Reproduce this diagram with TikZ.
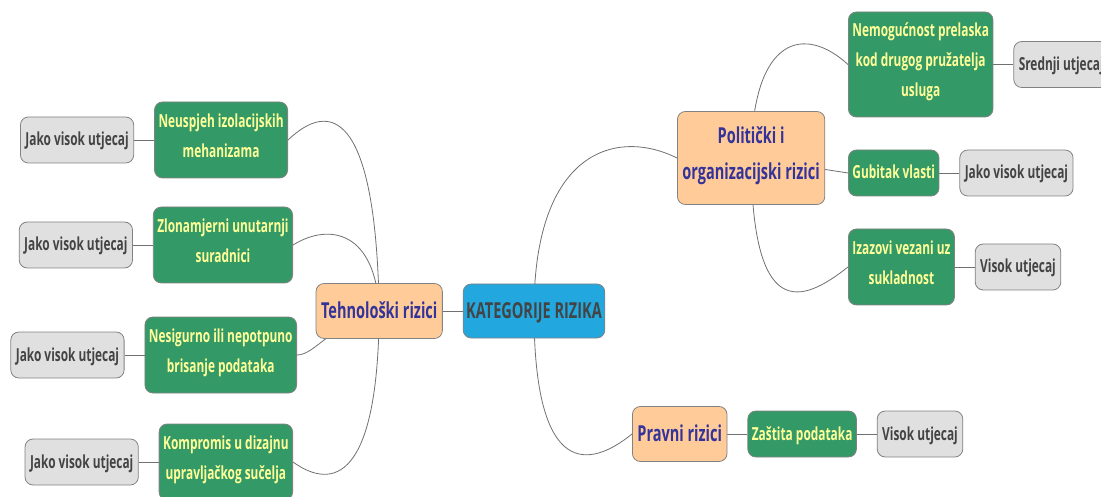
\documentclass[tikz,border=0pt]{standalone}
\usepackage{fontspec}
\setmainfont{Open Sans}[FakeStretch=0.66]
\usetikzlibrary{positioning,backgrounds}

\definecolor{rootblue}{RGB}{34,168,223}
\definecolor{peach}{RGB}{255,204,153}
\definecolor{topictext}{RGB}{51,51,153}
\definecolor{riskgreen}{RGB}{51,153,102}
\definecolor{risktext}{RGB}{255,255,153}
\definecolor{leafgray}{RGB}{224,224,224}
\definecolor{darktext}{RGB}{68,68,68}
\definecolor{boxline}{RGB}{130,130,130}
\definecolor{linkgray}{RGB}{112,112,112}

\begin{document}
\begin{tikzpicture}[
  x=1pt, y=-1pt,
  node distance=20pt,
  box/.style={
    draw=boxline, rounded corners=8pt, line width=0.8pt, align=center,
    execute at begin node=\strut,
  },
  rootbox/.style={box, fill=rootblue, text=darktext, inner xsep=3pt, inner ysep=9pt,
    font=\fontsize{22}{36}\selectfont\bfseries},
  topicbox/.style={box, fill=peach, text=topictext, inner xsep=5pt, inner ysep=9.5pt,
    font=\fontsize{22}{36}\selectfont\bfseries},
  riskbox/.style={box, fill=riskgreen, text=risktext, inner xsep=4pt, inner ysep=8pt,
    font=\fontsize{18}{30}\selectfont\bfseries},
  impactbox/.style={box, fill=leafgray, text=darktext, inner xsep=5pt, inner ysep=8pt,
    font=\fontsize{18}{30}\selectfont\bfseries},
  link/.style={draw=linkgray, line width=0.8pt},
  ]
  \useasboundingbox (0,0) rectangle (1101,497);

  % centre and main branches
  \node[rootbox] (kat) at (534,311) {KATEGORIJE RIZIKA};
  \node[topicbox, left=of kat] (teh) {Tehnološki rizici};
  \node[topicbox, anchor=west, minimum height=93pt] (pol) at (677,158) {Politički i\\organizacijski rizici};
  \node[topicbox, anchor=west] (prav) at (632,434) {Pravni rizici};

  % technological risks
  \node[riskbox, anchor=east, minimum height=76pt] (neu) at (288,140) {Neuspjeh izolacijskih\\mehanizama};
  \node[riskbox, anchor=east, minimum height=76pt] (zlo) at (293,245) {Zlonamjerni unutarnji\\suradnici};
  \node[riskbox, anchor=east, minimum height=76pt] (nes) at (297,355) {Nesigurno ili nepotpuno\\brisanje podataka};
  \node[riskbox, anchor=east, minimum height=76pt] (kom) at (293,462) {Kompromis u dizajnu\\upravljačkog sučelja};
  \node[impactbox, left=of neu] (jv1) {Jako visok utjecaj};
  \node[impactbox, left=of zlo] (jv2) {Jako visok utjecaj};
  \node[impactbox, left=of nes] (jv3) {Jako visok utjecaj};
  \node[impactbox, left=of kom] (jv4) {Jako visok utjecaj};

  % political and organisational risks
  \node[riskbox, anchor=west, minimum height=105pt] (nem) at (848,64.5) {Nemogućnost prelaska\\kod drugog pružatelja\\usluga};
  \node[riskbox, anchor=west] (gub) at (848,173) {Gubitak vlasti};
  \node[riskbox, anchor=west, minimum height=76pt] (iza) at (848,267) {Izazovi vezani uz\\sukladnost};
  \node[impactbox, right=of nem] (sred) {Srednji utjecaj};
  \node[impactbox, right=of gub] (jv5) {Jako visok utjecaj};
  \node[impactbox, right=of iza] (vis1) {Visok utjecaj};

  % legal risks
  \node[riskbox, right=of prav] (zas) {Zaštita podataka};
  \node[impactbox, right=of zas] (vis2) {Visok utjecaj};

  \begin{scope}[on background layer]
    \draw[link] (kat) -- (teh);
    \draw[link] (kat.center) .. controls (534,150) and (617,128) .. (pol.west);
    \draw[link] (kat.center) .. controls (534,480) and (590,468) .. (prav.west);
    \draw[link] (teh.center) .. controls (376,110) and (330,100) .. (neu.east);
    \draw[link] (teh.center) .. controls (376,232) and (330,222) .. (zlo.east);
    \draw[link] (teh.center) .. controls (330,325) and (315,355) .. (nes.east);
    \draw[link] (teh.center) .. controls (378,495) and (325,485) .. (kom.east);
    \draw[link] (pol.center) .. controls (752,35) and (805,25) .. (nem.west);
    \draw[link] (pol.center) -- (gub.west);
    \draw[link] (pol.center) .. controls (752,320) and (800,305) .. (iza.west);
    \draw[link] (prav) -- (zas);
    \draw[link] (zas) -- (vis2);
    \draw[link] (neu) -- (jv1);
    \draw[link] (zlo) -- (jv2);
    \draw[link] (nes) -- (jv3);
    \draw[link] (kom) -- (jv4);
    \draw[link] (nem) -- (sred);
    \draw[link] (gub) -- (jv5);
    \draw[link] (iza) -- (vis1);
  \end{scope}
\end{tikzpicture}
\end{document}
